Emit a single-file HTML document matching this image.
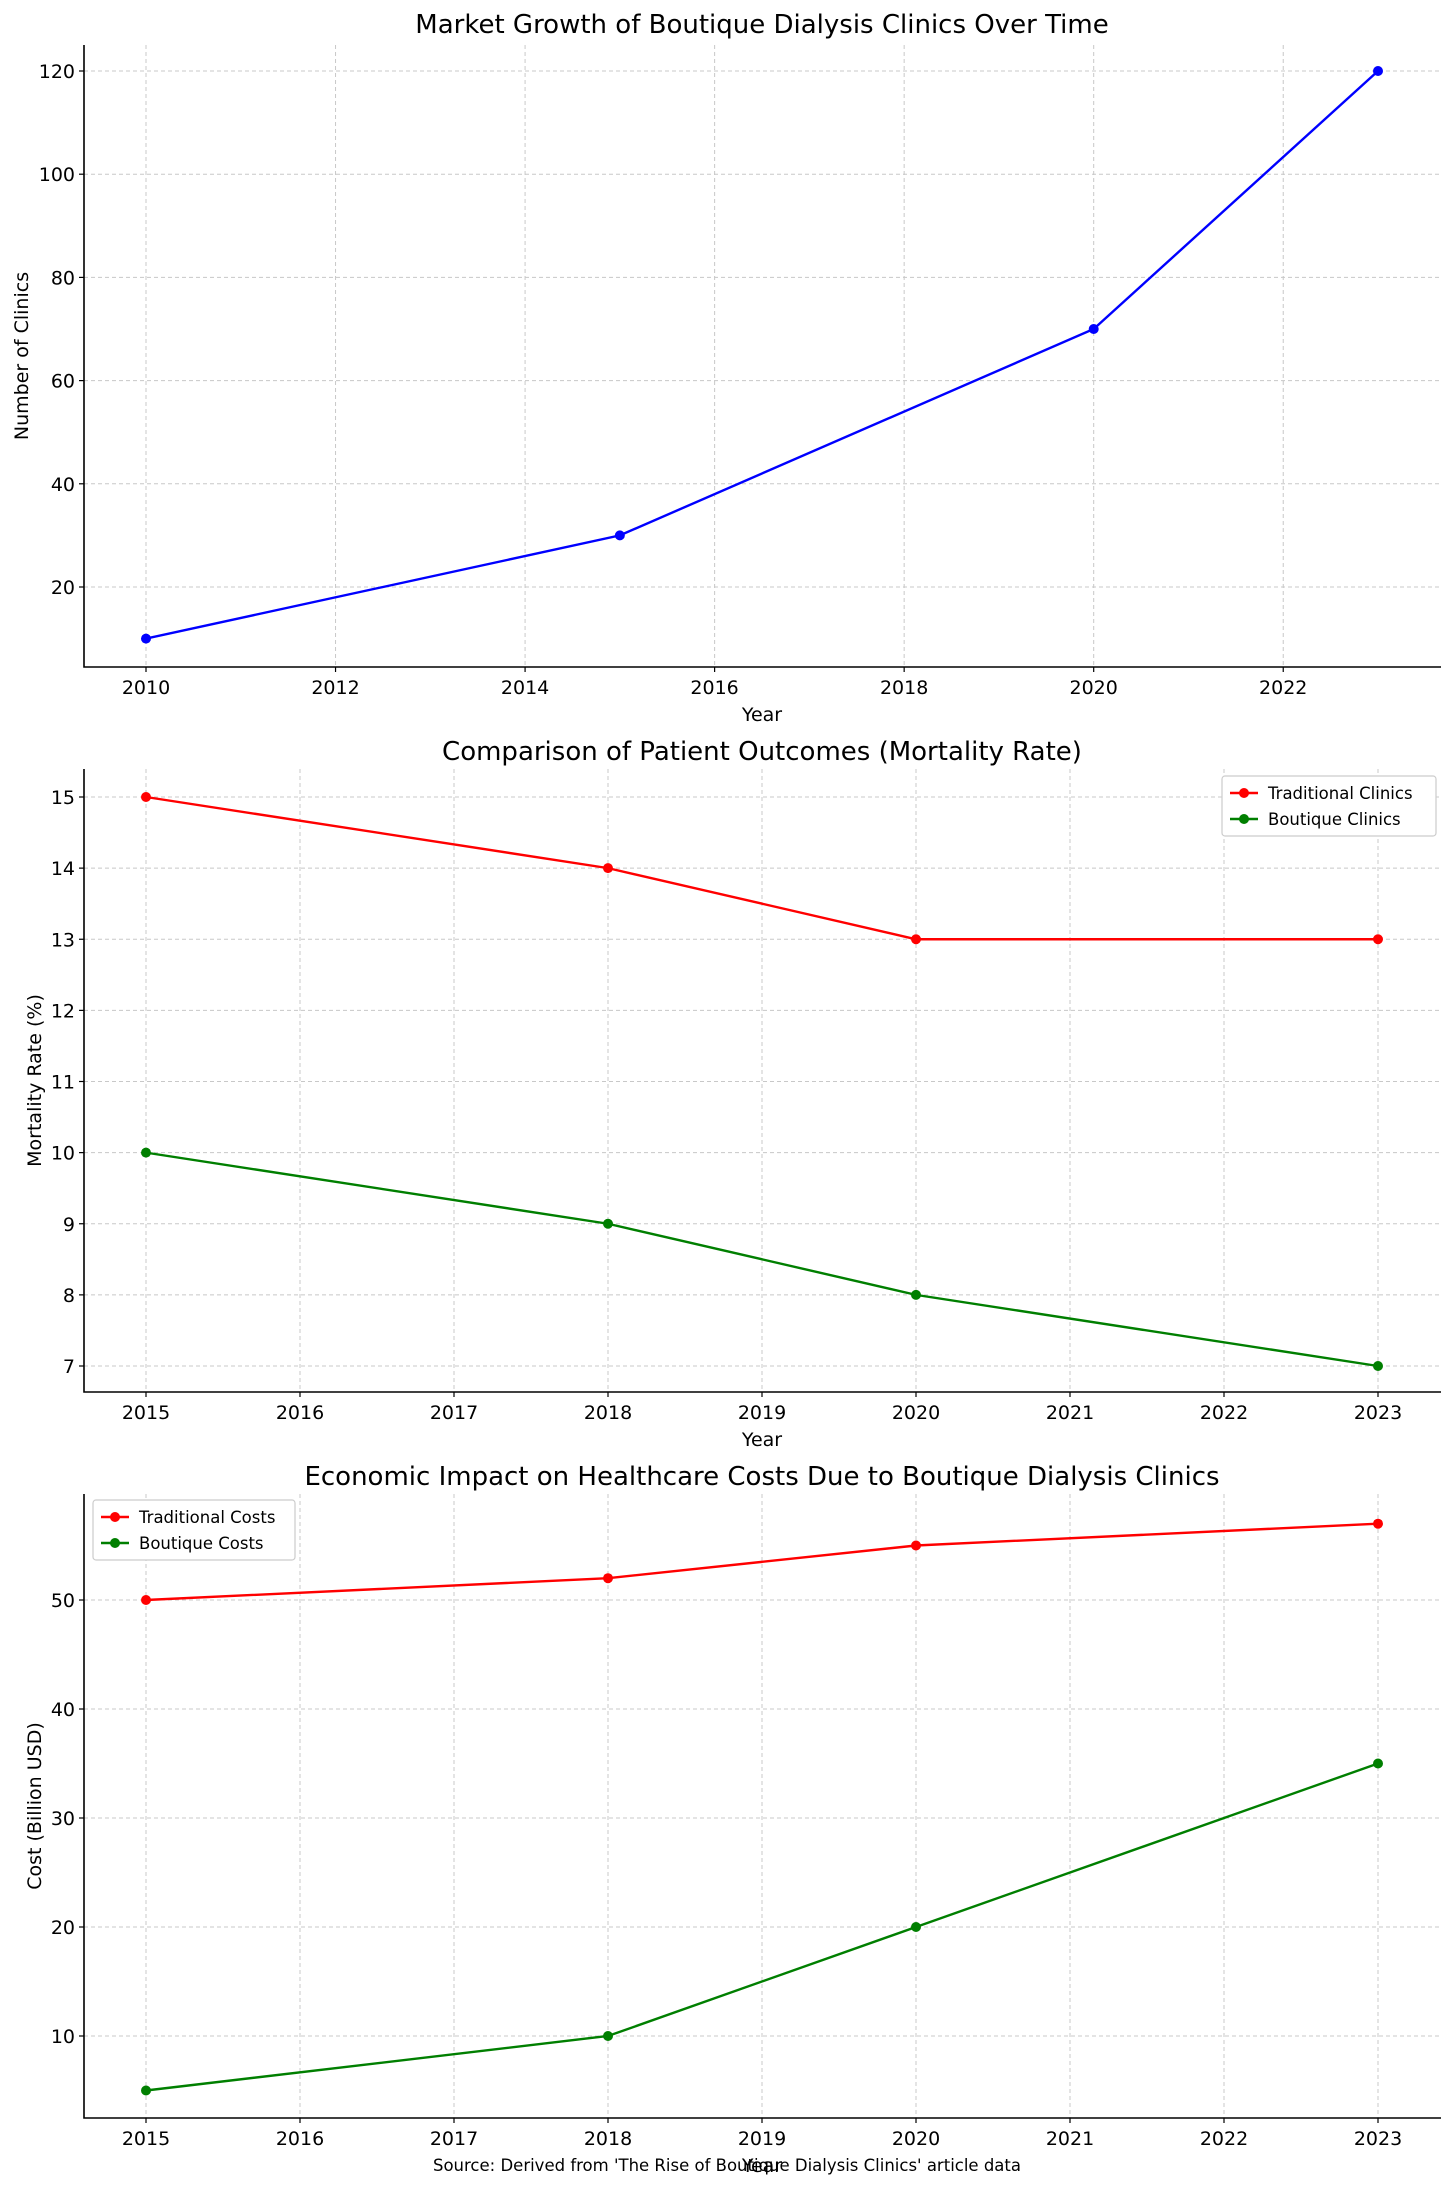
<!DOCTYPE html>
<html><head><meta charset="utf-8"><style>
html,body{margin:0;padding:0;background:#fff}
svg{display:block;font-family:"DejaVu Sans","Liberation Sans",sans-serif}
</style></head><body>
<svg id="fig" width="1456" height="2191" viewBox="0 0 1456 2191" xmlns="http://www.w3.org/2000/svg"></svg>
<script>
// Chart 1 data
const growthYears = [2010, 2015, 2020, 2023];
const growthClinics = [10, 30, 70, 120];
const growthXTicks = [2010, 2012, 2014, 2016, 2018, 2020, 2022];
const growthYTicks = [20, 40, 60, 80, 100, 120];
// Chart 2 data
const outcomeYears = [2015, 2018, 2020, 2023];
const traditionalMortality = [15, 14, 13, 13];
const boutiqueMortality = [10, 9, 8, 7];
const outcomeXTicks = [2015, 2016, 2017, 2018, 2019, 2020, 2021, 2022, 2023];
const outcomeYTicks = [7, 8, 9, 10, 11, 12, 13, 14, 15];
// Chart 3 data
const costYears = [2015, 2018, 2020, 2023];
const traditionalCosts = [50, 52, 55, 57];
const boutiqueCosts = [5, 10, 20, 35];
const costYTicks = [10, 20, 30, 40, 50];

const NS = "http://www.w3.org/2000/svg";
const fig = document.getElementById('fig');
function mk(tag, attrs, parent, text) {
  const e = document.createElementNS(NS, tag);
  for (const k in attrs) e.setAttribute(k, attrs[k]);
  if (text !== undefined) e.textContent = text;
  (parent || fig).appendChild(e);
  return e;
}
function lin(d0, d1, r0, r1) { return v => r0 + (v - d0) * (r1 - r0) / (d1 - d0); }

function chart(cfg) {
  const g = mk('g', {});
  
  
  const L = 84, R = 1441, T = cfg.top, B = cfg.bottom;
  const sx = lin(cfg.xa[0], cfg.xa[1], 146, 1378);
  const sy = lin(cfg.ya[0], cfg.ya[1], cfg.ypx[0], cfg.ypx[1]);
  // grid
  cfg.xticks.forEach(t => {
    const l = mk('line', {x1: sx(t), x2: sx(t), y1: T, y2: B, stroke: '#c8c8c8', 'stroke-width': 1, 'stroke-dasharray': '4,3'}, g);
    
    
  });
  cfg.yticks.forEach(t => {
    const l = mk('line', {x1: L, x2: R, y1: sy(t), y2: sy(t), stroke: '#c8c8c8', 'stroke-width': 1, 'stroke-dasharray': '4,3'}, g);
    
    
  });
  // axes
  const ax = mk('path', {d: `M${L},${T} L${L},${B} L${R},${B}`, fill: 'none', stroke: '#000', 'stroke-width': 1.6}, g);
  
  
  cfg.xticks.forEach(t => {
    mk('line', {x1: sx(t), x2: sx(t), y1: B, y2: B + 5, stroke: '#000', 'stroke-width': 1.2}, g);
    const tx = mk('text', {x: sx(t), y: B + 27, 'font-size': 19, 'text-anchor': 'middle', fill: '#000'}, g, t);
    
    
  });
  cfg.yticks.forEach(t => {
    mk('line', {x1: L - 5, x2: L, y1: sy(t), y2: sy(t), stroke: '#000', 'stroke-width': 1.2}, g);
    const tx = mk('text', {x: L - 9, y: sy(t) + 7, 'font-size': 19, 'text-anchor': 'end', fill: '#000'}, g, t);
    
    
  });
  const ti = mk('text', {x: 762, y: cfg.titleY, 'font-size': 26, 'text-anchor': 'middle'}, g, cfg.title);
  
  
  const xl = mk('text', {x: 762, y: B + 54, 'font-size': 19, 'text-anchor': 'middle'}, g, 'Year');
  
  
  const yc = (T + B) / 2;
  const yl = mk('text', {x: cfg.ylx, y: yc, 'font-size': 19, 'text-anchor': 'middle', transform: `rotate(-90 ${cfg.ylx} ${yc})`}, g, cfg.ylabel);
  
  
  cfg.series.forEach(s => {
    const pts = s.xs.map((x, i) => `${sx(x)},${sy(s.ys[i])}`).join(' ');
    const pl = mk('polyline', {points: pts, fill: 'none', stroke: s.color, 'stroke-width': 2.4}, g);
    
    
    s.xs.forEach((x, i) => {
      const c = mk('circle', {cx: sx(x), cy: sy(s.ys[i]), r: 5, fill: s.color}, g);
      
      
    });
  });
  if (cfg.legend) {
    const lg = cfg.legend;
    const lgG = mk('g', {}, g);
    
    
    mk('rect', {x: lg.x, y: lg.y, width: lg.w, height: 60, rx: 3, fill: '#fff', stroke: '#ccc', 'stroke-width': 1.2}, lgG);
    cfg.series.forEach((s, i) => {
      const yy = lg.y + 17 + i * 26;
      const e = mk('g', {}, lgG);
      
      
      mk('line', {x1: lg.x + 8, x2: lg.x + 36, y1: yy, y2: yy, stroke: s.color, 'stroke-width': 2.4}, e);
      mk('circle', {cx: lg.x + 22, cy: yy, r: 5, fill: s.color}, e);
      mk('text', {x: lg.x + 46, y: yy + 6, 'font-size': 16.5}, e, s.label);
    });
  }
}

chart({name: 'market-growth-chart', top: 45, bottom: 667, xa: [2010, 2023], ya: [20, 120], ypx: [587, 71],
  xticks: growthXTicks, yticks: growthYTicks, title: 'Market Growth of Boutique Dialysis Clinics Over Time', titleY: 33,
  ylabel: 'Number of Clinics', ylx: 28,
  series: [{key: 'clinics', xs: growthYears, ys: growthClinics, color: '#0000ff', label: 'Clinics'}]});

chart({name: 'mortality-chart', top: 769, bottom: 1392, xa: [2015, 2023], ya: [7, 15], ypx: [1366, 797],
  xticks: outcomeXTicks, yticks: outcomeYTicks, title: 'Comparison of Patient Outcomes (Mortality Rate)', titleY: 760,
  ylabel: 'Mortality Rate (%)', ylx: 41,
  legend: {x: 1222, y: 776, w: 214},
  series: [{key: 'traditional-mortality', xs: outcomeYears, ys: traditionalMortality, color: '#ff0000', label: 'Traditional Clinics'},
           {key: 'boutique-mortality', xs: outcomeYears, ys: boutiqueMortality, color: '#007f00', label: 'Boutique Clinics'}]});

chart({name: 'cost-chart', top: 1494, bottom: 2118, xa: [2015, 2023], ya: [10, 50], ypx: [2036, 1600],
  xticks: outcomeXTicks, yticks: costYTicks, title: 'Economic Impact on Healthcare Costs Due to Boutique Dialysis Clinics', titleY: 1485,
  ylabel: 'Cost (Billion USD)', ylx: 41,
  legend: {x: 93, y: 1500, w: 202},
  series: [{key: 'traditional-costs', xs: costYears, ys: traditionalCosts, color: '#ff0000', label: 'Traditional Costs'},
           {key: 'boutique-costs', xs: costYears, ys: boutiqueCosts, color: '#007f00', label: 'Boutique Costs'}]});

const src = mk('text', {x: 727, y: 2171, 'font-size': 16.5, 'text-anchor': 'middle'}, fig, "Source: Derived from 'The Rise of Boutique Dialysis Clinics' article data");


</script>
</body></html>
